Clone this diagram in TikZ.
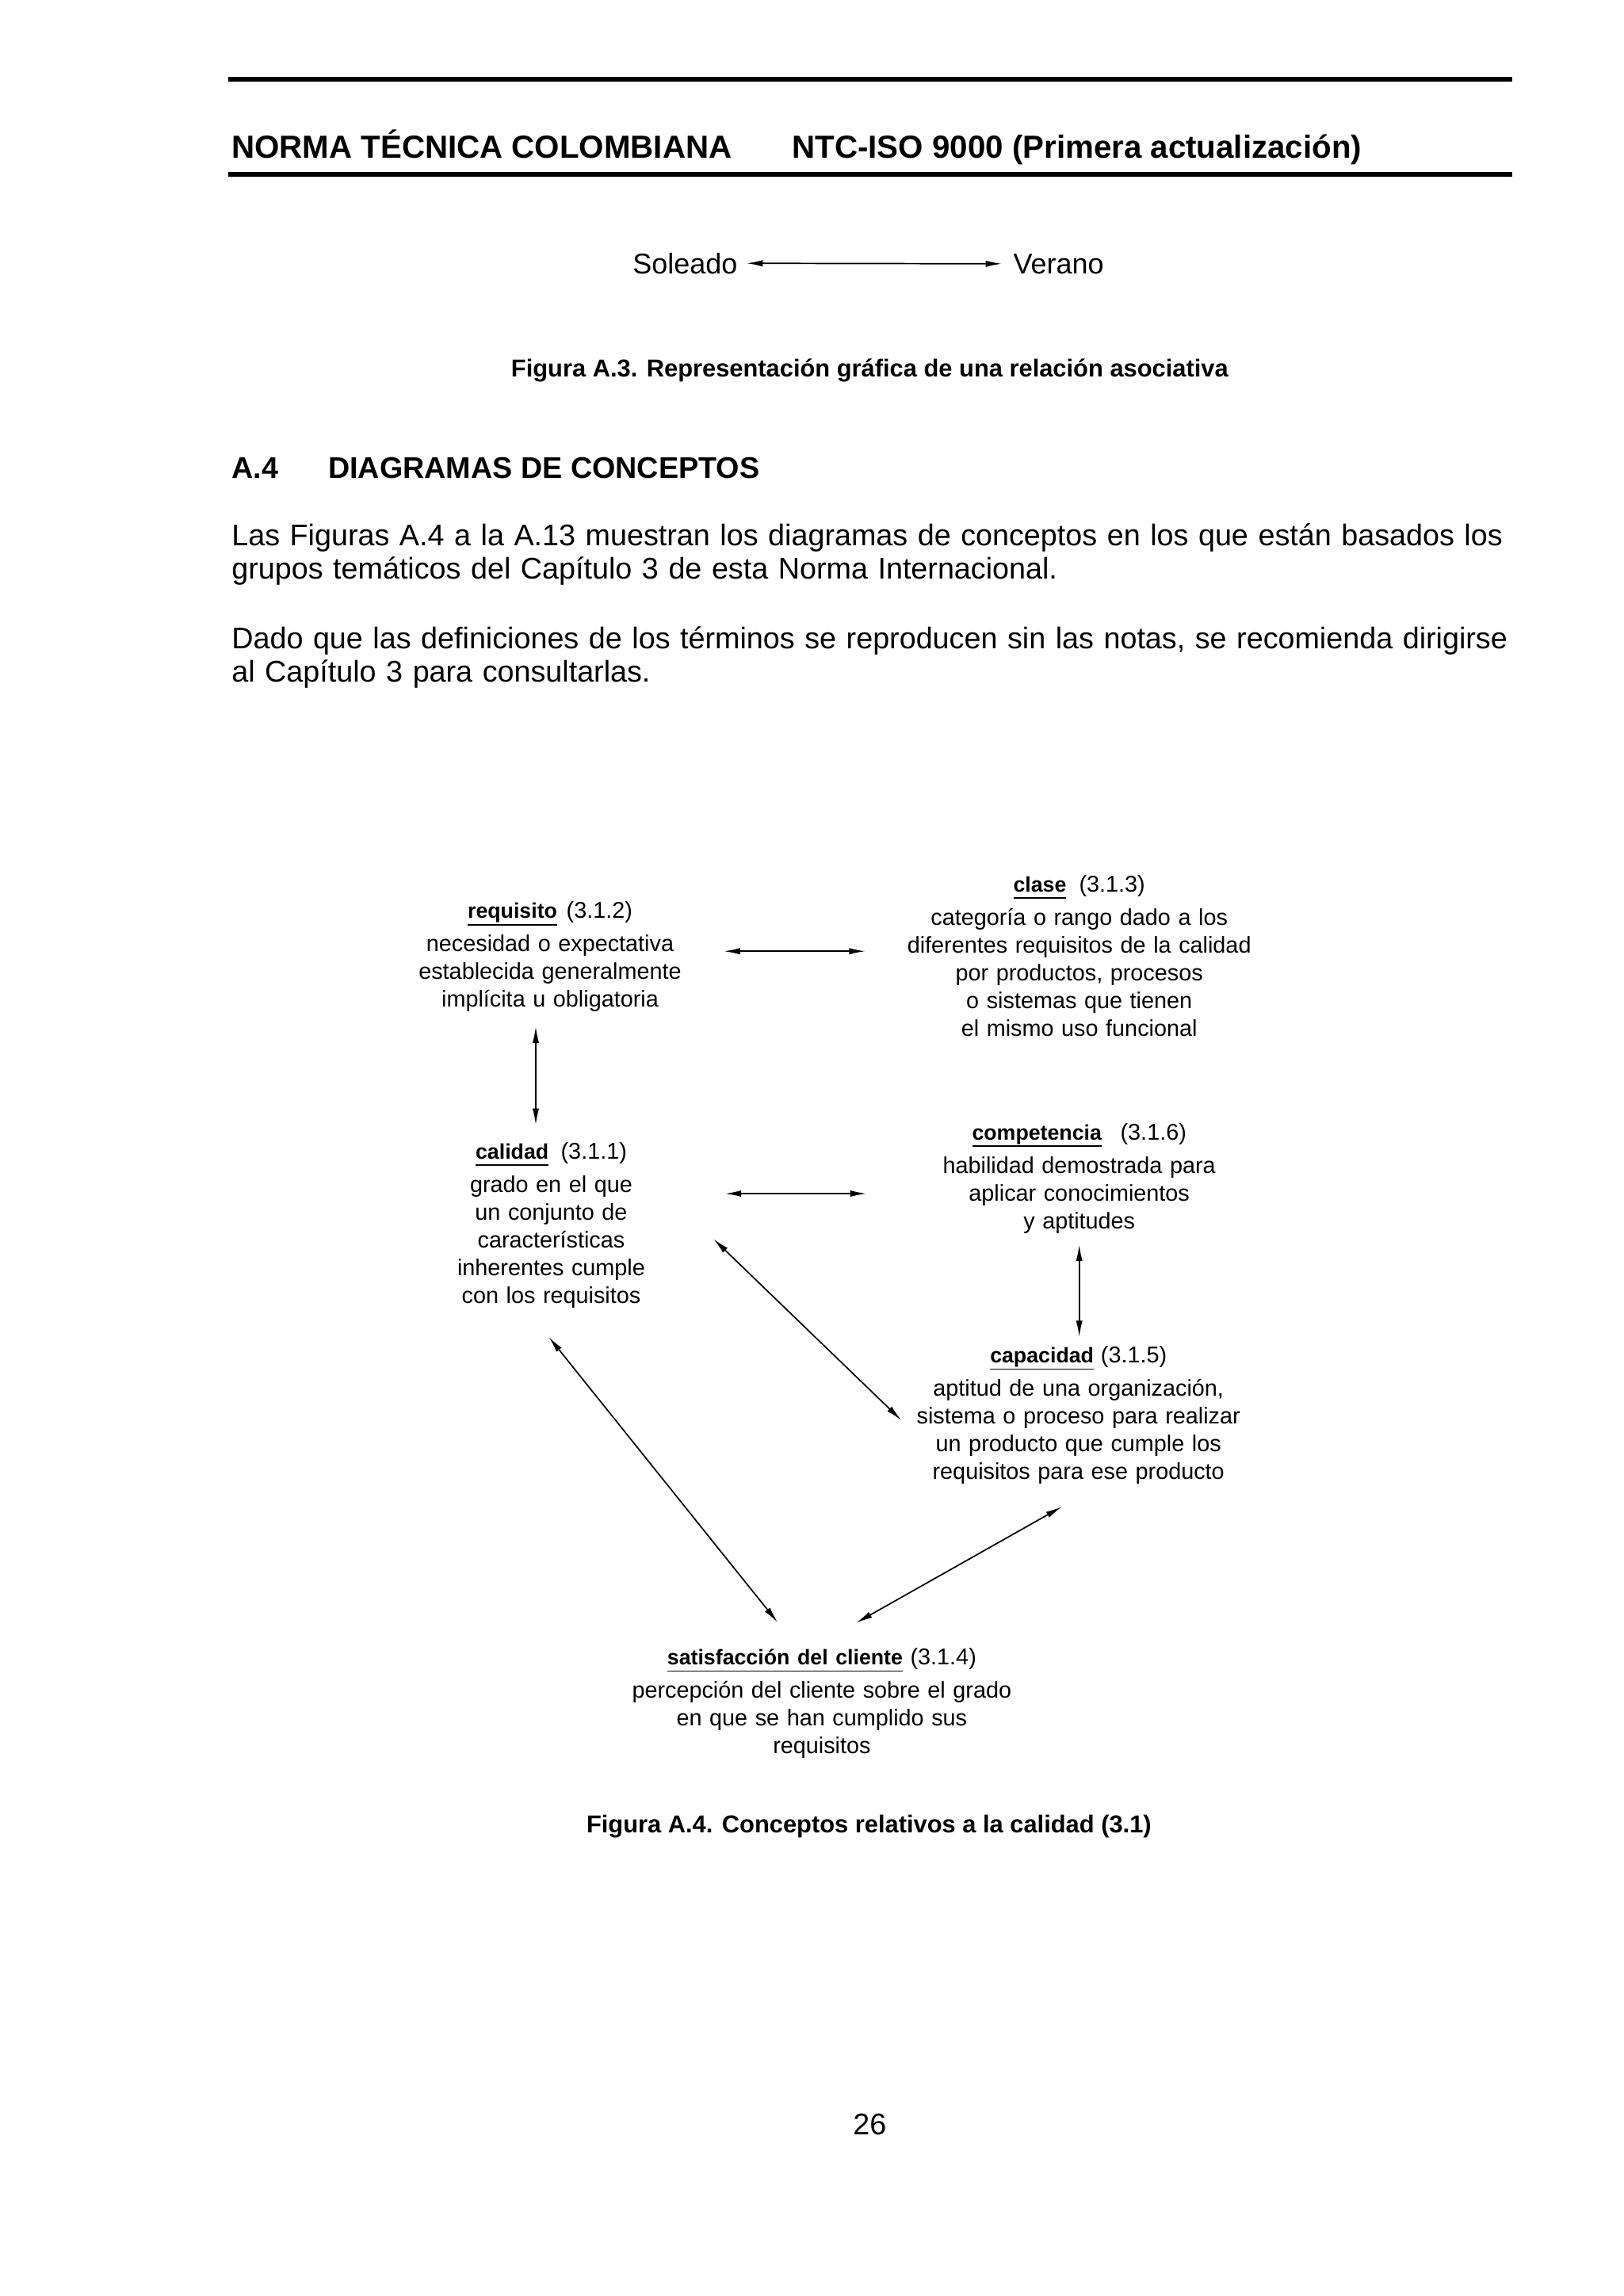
\documentclass[tikz,border=0pt]{standalone}
\usepackage{fontspec}
\setmainfont{Liberation Sans}
\usetikzlibrary{arrows.meta}

% underlined term of a concept
\newcommand{\termino}[1]{\setbox0\hbox{\fontsize{7.8}{10}\selectfont\bfseries #1}\rlap{\rule[-2.6pt]{\wd0}{0.5pt}}\box0}

\begin{document}
\begin{tikzpicture}[
        rel/.style={{Latex[length=6pt,width=2.4pt]}-{Latex[length=6pt,width=2.4pt]}, line width=0.5pt},
        concept/.style={text width=5.8cm, align=center, inner sep=0pt, anchor=base,
                font=\fontsize{8.4}{10.2}\selectfont},
        caption/.style={inner sep=0pt, anchor=base, font=\fontsize{9}{11}\selectfont\bfseries},
        body/.style={inner sep=0pt, anchor=base west, font=\fontsize{11}{12.3}\selectfont}
    ]
        \useasboundingbox (0,0) rectangle (21,29.7);

        % Header
        \draw[line width=1.6pt] (2.95,28.675) -- (19.565,28.675);
        \node[body, font=\fontsize{11.75}{14}\selectfont\bfseries] (norma) at (2.99,27.656) {NORMA TÉCNICA COLOMBIANA};
        \node[body, font=\fontsize{11.75}{14}\selectfont\bfseries] (ntc) at (10.24,27.656) {NTC-ISO 9000 (Primera actualización)};
        \draw[line width=1.6pt] (2.95,27.444) -- (19.565,27.444);

        % Associative relation
        \node[inner sep=0pt, anchor=base east, font=\fontsize{10.5}{12}\selectfont] (soleado) at (9.546,26.162) {Soleado};
        \node[inner sep=0pt, anchor=base west, font=\fontsize{10.5}{12}\selectfont] (verano) at (13.10,26.162) {Verano};
        \draw[rel, shorten <=3.1pt, shorten >=4pt] (soleado.east) -- (verano.west);
        \node[caption] (figA3) at (11.25,24.83) {Figura A.3. Representación gráfica de una relación asociativa};

        % Section text
        \node[body, font=\fontsize{11}{12.3}\selectfont\bfseries] (secnum) at (2.99,23.517) {A.4};
        \node[body, font=\fontsize{11}{12.3}\selectfont\bfseries] (sectitle) at (4.24,23.517) {DIAGRAMAS DE CONCEPTOS};
        \node[body, text width=16.51cm, align=left] (par1) at (2.99,22.642)
            {\makebox[16.51cm][s]{Las Figuras A.4 a la A.13 muestran los diagramas de conceptos en los que están basados los}\\
            grupos temáticos del Capítulo 3 de esta Norma Internacional.};
        \node[body, text width=16.51cm, align=left] (par2) at (2.99,21.31)
            {\makebox[16.51cm][s]{Dado que las definiciones de los términos se reproducen sin las notas, se recomienda dirigirse}\\
            al Capítulo 3 para consultarlas.};

        % Concepts
        \node[concept] (requisito) at (7.115,17.82) {\termino{requisito}\hspace{3.4pt}(3.1.2)\\[2.1pt]
            necesidad o expectativa\\ establecida generalmente\\ implícita u obligatoria};
        \node[concept] (clase) at (13.96,18.164) {\termino{clase}\hspace{4.7pt}(3.1.3)\\[2.1pt]
            categoría o rango dado a los\\ diferentes requisitos de la calidad\\ por productos, procesos\\
            o sistemas que tienen\\ el mismo uso funcional};
        \node[concept] (calidad) at (7.13,14.71) {\termino{calidad}\hspace{4.5pt}(3.1.1)\\[2.1pt]
            grado en el que\\ un conjunto de\\ características\\ inherentes cumple\\ con los requisitos};
        \node[concept] (competencia) at (13.96,14.955) {\termino{competencia}\hspace{6.9pt}(3.1.6)\\[2.1pt]
            habilidad demostrada para\\ aplicar conocimientos\\ y aptitudes};
        \node[concept] (capacidad) at (13.95,12.073) {\termino{capacidad}\hspace{2.6pt}(3.1.5)\\[2.1pt]
            aptitud de una organización,\\ sistema o proceso para realizar\\ un producto que cumple los\\
            requisitos para ese producto};
        \node[concept] (satisfaccion) at (10.63,8.167) {\termino{satisfacción del cliente}\hspace{2.8pt}(3.1.4)\\[2.1pt]
            percepción del cliente sobre el grado\\ en que se han cumplido sus\\ requisitos};

        % Arrow ends
        \coordinate (req-e) at (9.362,17.395);
        \coordinate (cla-w) at (11.194,17.395);
        \coordinate (req-s) at (6.93,16.421);
        \coordinate (cal-n) at (6.93,15.15);
        \coordinate (cal-e) at (9.377,14.26);
        \coordinate (com-w) at (11.208,14.26);
        \coordinate (com-s) at (13.96,13.60);
        \coordinate (cap-n) at (13.96,12.405);
        \coordinate (cal-se) at (9.229,13.673);
        \coordinate (cap-w) at (11.659,11.328);
        \coordinate (cal-s) at (7.099,12.405);
        \coordinate (sat-nw) at (10.059,8.713);
        \coordinate (cap-s) at (13.736,10.21);
        \coordinate (sat-ne) at (11.074,8.707);

        \draw[rel] (req-e) -- (cla-w);
        \draw[rel] (req-s) -- (cal-n);
        \draw[rel] (cal-e) -- (com-w);
        \draw[rel] (com-s) -- (cap-n);
        \draw[rel] (cal-se) -- (cap-w);
        \draw[rel] (cal-s) -- (sat-nw);
        \draw[rel] (cap-s) -- (sat-ne);

        \node[caption] (figA4) at (11.24,5.993) {Figura A.4. Conceptos relativos a la calidad (3.1)};
        \node[inner sep=0pt, anchor=base, font=\fontsize{11}{13}\selectfont] (pagina) at (11.25,2.09) {26};
    \end{tikzpicture}
\end{document}
